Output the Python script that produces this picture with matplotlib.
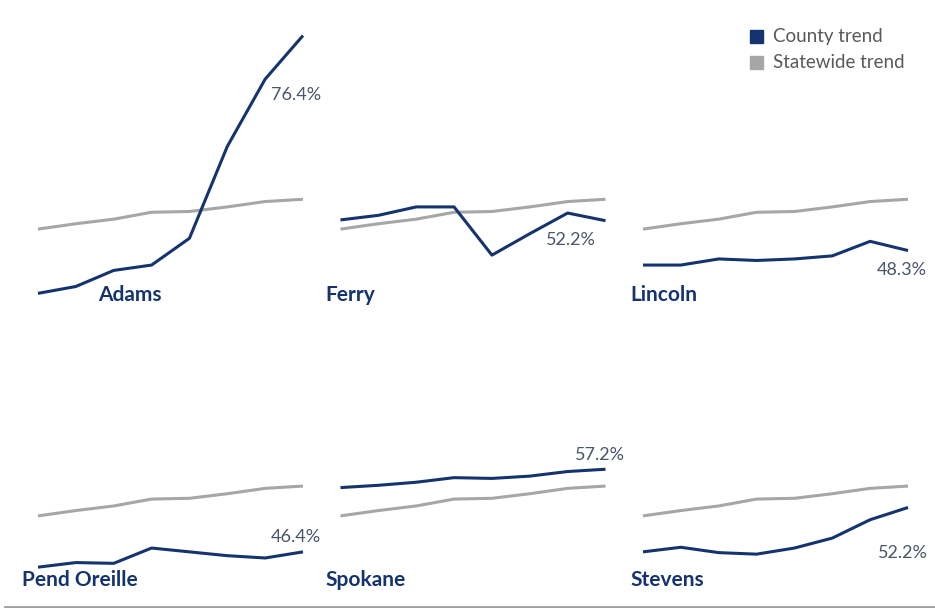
import matplotlib
matplotlib.use("Agg")
import matplotlib.pyplot as plt
from matplotlib.lines import Line2D
from matplotlib.patches import Rectangle

plt.rcParams['font.family'] = ['Lato', 'DejaVu Sans']

# ---------------- data ----------------
years = [0, 1, 2, 3, 4, 5, 6, 7]
counties = ["Adams", "Ferry", "Lincoln", "Pend Oreille", "Spokane", "Stevens"]
statewide = [51.1, 51.8, 52.4, 53.3, 53.4, 54.0, 54.7, 55.0]
adams = [42.7, 43.6, 45.7, 46.4, 49.9, 61.9, 70.7, 76.4]
ferry = [52.3, 52.9, 54.0, 54.0, 47.7, 50.5, 53.2, 52.2]
lincoln = [46.4, 46.4, 47.2, 47.0, 47.2, 47.6, 49.5, 48.3]
pend_oreille = [44.4, 45.0, 44.9, 46.9, 46.4, 45.9, 45.6, 46.4]
spokane = [54.8, 55.1, 55.5, 56.1, 56.0, 56.3, 56.9, 57.2]
stevens = [46.4, 47.0, 46.3, 46.1, 46.9, 48.2, 50.6, 52.2]
value_labels = ["76.4%", "52.2%", "48.3%", "46.4%", "57.2%", "52.2%"]
series = [adams, ferry, lincoln, pend_oreille, spokane, stevens]

# ---------------- style ----------------
NAVY = "#14336f"
GRAY = "#a6a6a6"
LABEL_GRAY = "#4a5568"
LEGEND_TXT = "#595959"

W, H = 935, 608
fig = plt.figure(figsize=(W / 100, H / 100), dpi=100)
fig.patch.set_facecolor("white")

def px_axes(x0, y0, x1, y1):
    return fig.add_axes([x0 / W, 1 - y1 / H, (x1 - x0) / W, (y1 - y0) / H])

col_x = [38, 340.5, 643]
row_y = [(20, 305), (306.8, 591.8)]
ylim = (41.18, 78.43)

# label x offsets (pixels) from axes left; value-label anchor index and offsets
name_dx = [60, -15, -13, -16, -15, -13]
val_anchor = [6, 7, 7, 7, 7, 7]
val_off = [(6, -16), (-35, -19), (-6, -19), (-7, 15), (-6, 14), (-5, -46)]
val_ha = ["left", "center", "center", "center", "center", "center"]

for i, (name, vals) in enumerate(zip(counties, series)):
    r, c = divmod(i, 3)
    y0, y1 = row_y[r]
    ax = px_axes(col_x[c], y0, col_x[c] + 265, y1)
    ax.set_xlim(0, 7)
    ax.set_ylim(*ylim)
    ax.axis("off")
    ax.plot(years, statewide, color=GRAY, lw=2.2, clip_on=False,
            solid_capstyle="butt", zorder=2)
    ax.plot(years, vals, color=NAVY, lw=2.2, clip_on=False,
            solid_capstyle="butt", solid_joinstyle="round", zorder=3)
    ax.annotate(name, xy=(0, 0), xycoords="axes fraction",
                xytext=(name_dx[i], 10 if r == 0 else 12),
                textcoords="offset pixels", ha="left", va="center",
                fontsize=15, fontweight="bold", color=NAVY)
    k = val_anchor[i]
    ax.annotate(value_labels[i], xy=(years[k], vals[k]), xycoords="data",
                xytext=val_off[i], textcoords="offset pixels",
                ha=val_ha[i], va="center", fontsize=13, color=LABEL_GRAY,
                annotation_clip=False)

# legend
for j, (lab, col) in enumerate([("County trend", NAVY), ("Statewide trend", GRAY)]):
    yc = 36.5 + 26 * j
    fig.add_artist(Rectangle(((750) / W, 1 - (yc + 6.5) / H), 13 / W, 13 / H,
                             transform=fig.transFigure, color=col))
    fig.text(773 / W, 1 - yc / H, lab, ha="left", va="center",
             fontsize=13.5, color=LEGEND_TXT)

# bottom rule
fig.add_artist(Line2D([5 / W, 1.0], [1 - 606.5 / H, 1 - 606.5 / H],
                      transform=fig.transFigure, color="#a0a0a0", lw=2))

fig.savefig("out.png", dpi=100, facecolor="white")
